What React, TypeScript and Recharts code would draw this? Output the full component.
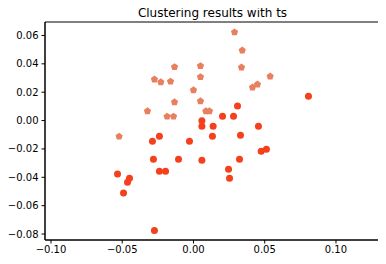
import React from "react";
import { ReferenceArea, Scatter, ScatterChart, XAxis, YAxis } from "recharts";

// cluster drawn as pentagons
const pentaX = [-0.0133, 0.0049, -0.0274, -0.0229, -0.0161, 0.0049, 0.0, -0.0133, 0.0049, 0.0087, 0.0112, -0.0323, -0.0185, -0.014, 0.0288, 0.0342, 0.0337, 0.0538, 0.0414, 0.0449, -0.0522];
const pentaY = [0.038, 0.0387, 0.0293, 0.0273, 0.0278, 0.0309, 0.0217, 0.0132, 0.0139, 0.0069, 0.0069, 0.0069, 0.0031, 0.0031, 0.0625, 0.0497, 0.0377, 0.0314, 0.0236, 0.0257, -0.011];

// cluster drawn as circles
const circX = [0.0807, 0.0309, 0.0204, 0.0281, 0.0059, 0.0059, 0.0138, 0.0456, 0.0133, 0.033, 0.0475, 0.0512, 0.0059, 0.0323, 0.0246, 0.0253, -0.0239, -0.0288, -0.0028, -0.0281, -0.0105, -0.0239, -0.0196, -0.0533, -0.0449, -0.0463, -0.0491, -0.0274];
const circY = [0.0172, 0.0102, 0.0031, 0.0031, -0.0002, -0.004, -0.004, -0.004, -0.011, -0.0103, -0.0216, -0.0202, -0.028, -0.0273, -0.0343, -0.0407, -0.011, -0.0146, -0.0146, -0.0273, -0.0273, -0.0358, -0.0358, -0.0377, -0.0407, -0.0435, -0.0511, -0.0775];

const xTicks = [-0.1, -0.05, 0, 0.05, 0.1];
const yTicks = [-0.08, -0.06, -0.04, -0.02, 0, 0.02, 0.04, 0.06];
const xDomain: [number, number] = [-0.1042, 0.1309];
const yDomain: [number, number] = [-0.0842, 0.0695];

const pentaData = pentaX.map((x, i) => ({ x, y: pentaY[i] }));
const circData = circX.map((x, i) => ({ x, y: circY[i] }));

const fmt = (v: number) => v.toFixed(2).replace("-", "\u2212");

const font = "DejaVu Sans";

const Pentagon = (props: any) => {
  const { cx, cy } = props;
  const r = 3.8;
  const pts = [0, 1, 2, 3, 4]
    .map((k) => {
      const a = ((-90 + 72 * k) * Math.PI) / 180;
      return `${cx + r * Math.cos(a)},${cy + 0.3 + r * Math.sin(a)}`;
    })
    .join(" ");
  return <polygon points={pts} fill="#e8805f" />;
};

const Dot = (props: any) => <circle cx={props.cx} cy={props.cy} r={3.5} fill="#f4401c" />;

export default function App() {
  return (
    <div style={{ position: "relative", width: 378, height: 256, fontFamily: font }}>
      <ScatterChart width={378} height={256} margin={{ top: 14, right: 6, bottom: 0, left: 0 }}>
        <XAxis
          type="number"
          dataKey="x"
          domain={xDomain}
          ticks={xTicks}
          tickFormatter={fmt}
          allowDataOverflow
          height={24}
          tickSize={3.5}
          tickMargin={2}
          stroke="#000"
          tick={{ fill: "#000", fontSize: 10, fontFamily: font }}
        />
        <YAxis
          type="number"
          dataKey="y"
          domain={yDomain}
          ticks={yTicks}
          tickFormatter={fmt}
          allowDataOverflow
          width={37}
          tickSize={3.5}
          tickMargin={3}
          stroke="#000"
          tick={{ fill: "#000", fontSize: 10, fontFamily: font }}
        />
        <ReferenceArea
          x1={xDomain[0]}
          x2={xDomain[1]}
          y1={yDomain[0]}
          y2={yDomain[1]}
          fill="none"
          stroke="#000"
          strokeWidth={1}
          fillOpacity={0}
        />
        <Scatter data={pentaData} shape={Pentagon} isAnimationActive={false} />
        <Scatter data={circData} shape={Dot} isAnimationActive={false} />
      </ScatterChart>
      <div
        style={{
          position: "absolute",
          zIndex: 2,
          top: -2,
          left: 37,
          width: 335,
          textAlign: "center",
          fontSize: 12,
          lineHeight: "14px",
          color: "#000",
          whiteSpace: "nowrap",
        }}
      >
        Clustering results with ts
      </div>
    </div>
  );
}
